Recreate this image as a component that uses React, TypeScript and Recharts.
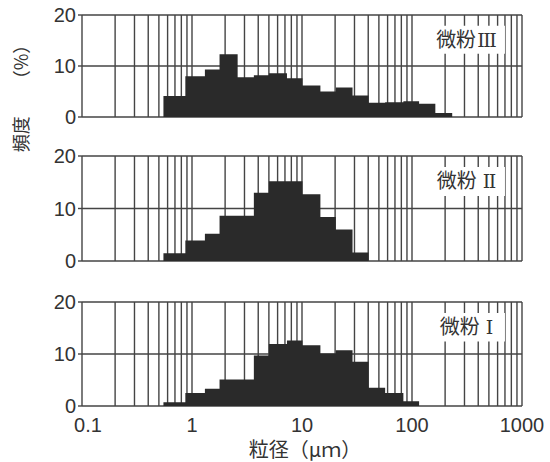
import React from "react";
import {
  AreaChart,
  Area,
  XAxis,
  YAxis,
  CartesianGrid,
  ReferenceArea,
} from "recharts";

// Bin edges (µm), shared by the three samples
const binEdges = [
  0.55, 0.87, 1.31, 1.78, 2.6, 3.65, 5.0, 7.3, 10.1, 14.7, 20.3, 28.8, 40.3,
  57, 83.5, 116, 163, 232,
];

// Frequency (%) per bin
const fine3 = [4.1, 8.0, 9.3, 12.3, 7.8, 8.2, 8.6, 7.6, 6.2, 5.0, 5.8, 4.2, 2.8, 2.9, 3.1, 2.6, 0.8];
const fine2 = [1.5, 3.9, 5.2, 8.6, 8.6, 13.0, 15.2, 15.2, 12.7, 8.4, 6.0, 1.6, 0, 0, 0, 0, 0];
const fine1 = [0.7, 2.5, 3.3, 5.1, 5.1, 9.7, 11.9, 12.6, 11.7, 10.1, 10.7, 8.5, 3.5, 2.5, 0.9, 0, 0];

const panelPrefix = "微粉";
const panelNumerals = ["III", "II", "I"];
const yTicks = [0, 10, 20];
const decadeTicks = [0.1, 1, 10, 100, 1000];
const decadeLabels = ["0.1", "1", "10", "100", "1000"];
const xTitle = "粒径（μｍ）";
const yTitleA = "頻度";
const yTitleB = "（%）";

// log grid ticks: 1..9 × each decade, plus 1000
const gridTicks: number[] = [];
[0.1, 1, 10, 100].forEach((d) => {
  for (let k = 1; k <= 9; k++) gridTicks.push(+(k * d).toPrecision(3));
});
gridTicks.push(1000);

function buildSteps(values: number[]) {
  let last = values.length - 1;
  while (last > 0 && values[last] === 0) last--;
  const pts = [];
  for (let i = 0; i <= last; i++) pts.push({ x: binEdges[i], v: values[i] });
  pts.push({ x: binEdges[last + 1], v: 0 });
  return pts;
}

const LINE = "#444";
const FILL = "#2a2a2a";
const TXT = "#333";
const NUMFONT = "'Liberation Sans', Arial, sans-serif";
const CJK = "'Noto Sans CJK JP', 'Noto Sans CJK SC', sans-serif";
const SERIF = "'DejaVu Serif', 'Liberation Serif', serif";

const XTick = (props: any) => {
  const { x, y, payload, showLabels } = props;
  const idx = decadeTicks.indexOf(payload.value);
  if (!showLabels || idx < 0) return <g />;
  const dx = idx === 0 ? 6 : 0;
  return (
    <text
      x={x + dx}
      y={y}
      dy={18}
      textAnchor="middle"
      fontSize={20}
      fontFamily={NUMFONT}
      fill={TXT}
    >
      {decadeLabels[idx]}
    </text>
  );
};

const PanelLabel = (props: any) => {
  const { viewBox, numeral } = props;
  if (!viewBox) return null;
  const cx = viewBox.x + viewBox.width / 2;
  const cy = viewBox.y + viewBox.height / 2;
  const gap = numeral.length < 3 ? 6 : 1;
  return (
    <text
      x={cx}
      y={cy}
      dy={7}
      textAnchor="middle"
      fontSize={20}
      fill={TXT}
    >
      <tspan fontFamily={CJK}>{panelPrefix}</tspan>
      <tspan fontFamily={SERIF} dx={gap} letterSpacing={-1.5} fontSize={19}>
        {numeral}
      </tspan>
    </text>
  );
};

function Panel({
  values,
  numeral,
  top,
  height,
  showX,
}: {
  values: number[];
  numeral: string;
  top: number;
  height: number;
  showX: boolean;
}) {
  const data = buildSteps(values);
  return (
    <div style={{ position: "absolute", left: 0, top }}>
      <AreaChart
        width={550}
        height={height}
        data={data}
        margin={{ top: 12, right: 28, bottom: showX ? 0 : 12, left: 0 }}
      >
        <CartesianGrid stroke={LINE} strokeWidth={1.4} />
        <XAxis
          type="number"
          dataKey="x"
          scale="log"
          domain={[0.1, 1000]}
          allowDataOverflow
          ticks={gridTicks}
          interval={0}
          tick={<XTick showLabels={showX} />}
          tickLine={false}
          axisLine={false}
          height={showX ? 30 : 1}
        />
        <YAxis
          type="number"
          domain={[0, 20]}
          ticks={yTicks}
          interval={0}
          width={82}
          axisLine={false}
          tickLine={{ stroke: LINE, strokeWidth: 1.4 }}
          tickSize={4}
          tickMargin={2}
          tick={{ fontSize: 20, fontFamily: NUMFONT, fill: TXT }}
        />
        <ReferenceArea
          x1={135}
          x2={700}
          y1={12.4}
          y2={17.9}
          fill="#ffffff"
          fillOpacity={1}
          stroke="none"
          label={<PanelLabel numeral={numeral} />}
        />
        <Area
          type="stepAfter"
          dataKey="v"
          stroke="none"
          fill={FILL}
          fillOpacity={1}
          baseValue={0}
          isAnimationActive={false}
          dot={false}
          activeDot={false}
        />
      </AreaChart>
    </div>
  );
}

export default function App() {
  return (
    <div
      style={{
        position: "absolute",
        left: 0,
        top: 0,
        width: 550,
        height: 462,
        background: "#fff",
        overflow: "hidden",
      }}
    >
      <Panel values={fine3} numeral={panelNumerals[0]} top={3} height={127} showX={false} />
      <Panel values={fine2} numeral={panelNumerals[1]} top={144} height={130} showX={false} />
      <Panel values={fine1} numeral={panelNumerals[2]} top={290} height={146} showX={true} />
      <div
        style={{
          position: "absolute",
          left: -40,
          top: 83,
          width: 120,
          height: 22,
          lineHeight: "22px",
          textAlign: "center",
          transform: "rotate(-90deg)",
          fontSize: 18,
          fontFamily: CJK,
          color: TXT,
          whiteSpace: "nowrap",
        }}
      >
        {yTitleA}
        <span style={{ marginLeft: 28 }}>{yTitleB}</span>
      </div>
      <div
        style={{
          position: "absolute",
          left: 225,
          top: 438,
          width: 160,
          textAlign: "center",
          fontSize: 20,
          lineHeight: "22px",
          fontFamily: CJK,
          color: TXT,
          whiteSpace: "nowrap",
        }}
      >
        {xTitle}
      </div>
    </div>
  );
}
